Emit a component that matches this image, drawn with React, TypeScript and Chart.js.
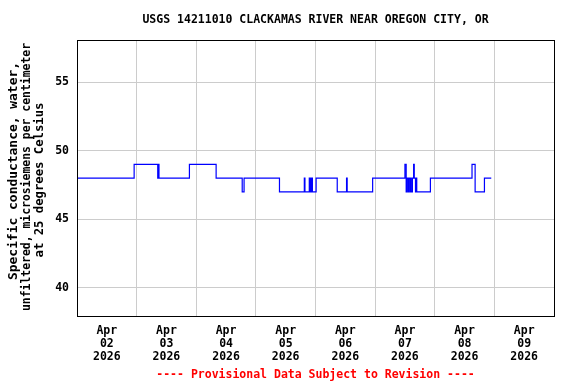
import React, { useEffect, useRef } from "react";
import { Chart, registerables } from "chart.js";
Chart.register(...registerables);

const TITLE = "USGS 14211010 CLACKAMAS RIVER NEAR OREGON CITY, OR";
const Y_TITLE = [
  "Specific conductance, water,",
  "unfiltered, microsiemens per centimeter",
  "at 25 degrees Celsius",
];
const FOOTER = "---- Provisional Data Subject to Revision ----";
const START = "2026-04-02T00:00";
const END = "2026-04-10T00:00";
const MONTH = "Apr";
const YEAR = "2026";
const DAYS = ["02", "03", "04", "05", "06", "07", "08", "09"];
const Y_TICKS = [40, 45, 50, 55];
const Y_MIN = 37.96;
const Y_MAX = 58.06;

// change points (value holds until next time)
const TIMES = [
  "2026-04-02T00:00", "2026-04-02T23:00", "2026-04-03T08:30", "2026-04-03T08:45",
  "2026-04-03T09:00", "2026-04-03T21:15", "2026-04-04T08:00", "2026-04-04T18:30",
  "2026-04-04T19:15", "2026-04-05T09:30", "2026-04-05T19:30", "2026-04-05T19:45",
  "2026-04-05T21:30", "2026-04-05T21:45", "2026-04-05T22:00", "2026-04-05T22:15",
  "2026-04-05T22:30", "2026-04-05T22:45", "2026-04-06T00:15", "2026-04-06T08:45",
  "2026-04-06T12:30", "2026-04-06T12:45", "2026-04-06T23:00", "2026-04-07T12:00",
  "2026-04-07T12:30", "2026-04-07T12:45", "2026-04-07T13:15", "2026-04-07T13:30",
  "2026-04-07T14:00", "2026-04-07T14:15", "2026-04-07T14:30", "2026-04-07T15:00",
  "2026-04-07T15:30", "2026-04-07T15:45", "2026-04-07T16:15", "2026-04-07T16:30",
  "2026-04-07T16:45", "2026-04-07T22:15", "2026-04-08T15:00", "2026-04-08T16:15",
  "2026-04-08T20:00", "2026-04-08T22:45",
];
const VALUES = [
  48, 49, 48, 49,
  48, 49, 48, 47,
  48, 47, 48, 47,
  48, 47, 48, 47,
  48, 47, 48, 47,
  48, 47, 48, 49,
  47, 48, 47, 48,
  47, 48, 47, 48,
  49, 48, 47, 48,
  47, 48, 49, 47,
  48, 48,
];

const FONT = '"DejaVu Sans Mono", monospace';
const hours = (s: string) =>
  (new Date(s + ":00Z").getTime() - new Date(START + ":00Z").getTime()) / 3.6e6;

export default function App() {
  const ref = useRef<HTMLCanvasElement>(null);
  useEffect(() => {
    if (!ref.current) return;
    const data = TIMES.map((t, i) => ({ x: hours(t), y: VALUES[i] }));
    const span = hours(END);
    const textPlugin = {
      id: "texts",
      afterDraw(chart: any) {
        const { ctx, chartArea } = chart;
        ctx.save();
        ctx.strokeStyle = "#000";
        ctx.lineWidth = 1;
        ctx.strokeRect(
          Math.round(chartArea.left) + 0.5,
          Math.round(chartArea.top) + 0.5,
          Math.round(chartArea.right - chartArea.left),
          Math.round(chartArea.bottom - chartArea.top)
        );
        ctx.fillStyle = "#000";
        ctx.font = `bold 11.5px ${FONT}`;
        ctx.textAlign = "center";
        ctx.textBaseline = "middle";
        const cx = (chartArea.left + chartArea.right) / 2;
        ctx.fillText(TITLE, cx, 20);
        ctx.fillStyle = "#ff0000";
        ctx.fillText(FOOTER, cx, 375);
        ctx.fillStyle = "#000";
        const widths = [218, 268, 155];
        const centers = [171, 177, 180];
        Y_TITLE.forEach((line, i) => {
          ctx.save();
          ctx.translate(14 + i * 13, centers[i]);
          ctx.rotate(-Math.PI / 2);
          const w = ctx.measureText(line).width;
          ctx.scale(widths[i] / w, 1);
          ctx.fillText(line, 0, 0);
          ctx.restore();
        });
        ctx.restore();
      },
    };
    const chart = new Chart(ref.current, {
      type: "line",
      data: {
        datasets: [
          {
            data,
            borderColor: "#0000ff",
            borderWidth: 1.2,
            pointRadius: 0,
            stepped: true,
            fill: false,
          },
        ],
      },
      options: {
        animation: false,
        responsive: false,
        devicePixelRatio: 1,
        layout: { padding: { top: 40, right: 22, left: 0, bottom: 0 } },
        plugins: { legend: { display: false }, tooltip: { enabled: false } },
        scales: {
          x: {
            type: "linear",
            min: 0,
            max: span,
            afterFit: (s: any) => {
              s.height = 68;
            },
            afterBuildTicks: (s: any) => {
              const t = [];
              for (let v = 0; v <= span; v += 12) t.push({ value: v });
              s.ticks = t;
            },
            border: { display: false },
            grid: {
              drawTicks: false,
              color: (c: any) =>
                c.tick && c.tick.value % 24 === 0 ? "#cccccc" : "rgba(0,0,0,0)",
            },
            ticks: {
              autoSkip: false,
              maxRotation: 0,
              minRotation: 0,
              padding: 9,
              color: "#000",
              font: { family: FONT, size: 11.5, weight: "bold", lineHeight: 1.1 },
              callback: (v: any) =>
                Number(v) % 24 === 12 ? [MONTH, DAYS[(Number(v) - 12) / 24], YEAR] : "",
            },
          },
          y: {
            min: Y_MIN,
            max: Y_MAX,
            afterFit: (s: any) => {
              s.width = 77;
            },
            afterBuildTicks: (s: any) => {
              s.ticks = Y_TICKS.map((v) => ({ value: v }));
            },
            border: { display: false },
            grid: { drawTicks: false, color: "#cccccc" },
            ticks: {
              padding: 8,
              color: "#000",
              font: { family: FONT, size: 11.5, weight: "bold" },
            },
          },
        },
      },
      plugins: [textPlugin],
    } as any);
    return () => chart.destroy();
  }, []);
  return (
    <div style={{ position: "absolute", left: 0, top: 0, width: 576, height: 384 }}>
      <canvas ref={ref} width={576} height={384} style={{ display: "block" }} />
    </div>
  );
}
